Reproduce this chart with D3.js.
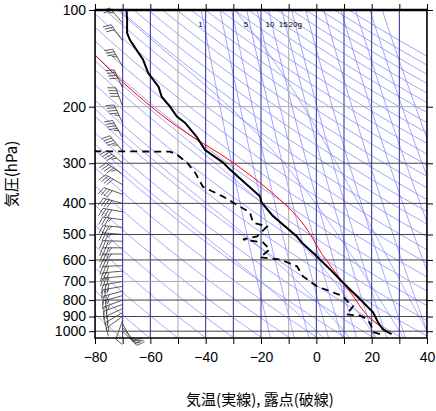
<!DOCTYPE html>
<html><head><meta charset="utf-8">
<script src="https://cdn.jsdelivr.net/npm/d3@7.9.0/dist/d3.min.js"></script>
<style>body{margin:0;background:#fff;font-family:"Liberation Sans","DejaVu Sans",sans-serif;}</style>
</head><body><svg id="c" width="436" height="411"></svg>
<script>
// sounding
const tempP = [1021,986,938,873,813,705,641,584,529,506,438,397.5,380,314,298.6,272.5,247.8,224.2,214.7,200,186.2,173.5,157,142.9,133.1,123.9,117.9,107.4,100];
const tempT = [27.2,24,22.3,20.5,16.9,9.6,4.9,0.1,-5.3,-7.1,-15.7,-19.8,-20.4,-31.2,-33.7,-40.3,-43.3,-47.5,-50.4,-52.9,-55.9,-57,-60.8,-62.6,-65,-67.4,-68.4,-68.4,-68.6];
const dewP = [1021,1007,960,920,895,886,860,836,812,778,751,725,675,628,598,589,556,529,518,507,472,459,427,398,381,355,321,299,282,276,275];
const dewT = [23,20.5,19.8,18.6,16,10.8,12.2,13.3,11.5,9.6,4.9,0.2,-4.8,-7,-13,-20.4,-16.8,-19.3,-26.5,-21.4,-17.8,-22.9,-24,-30,-33.7,-41,-43.8,-46.7,-50.4,-52.9,-90];
const parcelP = [1021,910,778,705,600,438,345,299,230,180,138];
const parcelT = [27.0,19.4,13.3,9.6,3.5,-7.1,-20.4,-30,-50.5,-66,-80];
const windP = [1000,975,950,925,900,875,850,825,800,775,750,725,700,675,650,625,600,575,550,525,500,475,450,425,400,375,350,325,300,275,250,225,200,175,150,125,110];
const windDir = [135,140,150,200,235,240,245,250,250,255,255,260,260,265,265,268,270,270,270,272,275,275,278,280,285,290,300,305,310,320,330,335,340,335,330,325,320];
const windSpd = [15,20,15,10,15,15,20,20,25,25,25,25,30,30,30,30,30,35,35,35,35,35,35,40,40,40,40,45,45,45,45,45,40,40,35,30,25];
const tempTicks = [-80,-60,-40,-20,0,20,40];
const presTicks = [100,200,300,400,500,600,700,800,900,1000];
const mixRatios = [1,2,3,5,7,10,15,20,30,50,80,120,180,260];
const mixLabels = [[1,"1"],[5,"5"],[10,"10"],[15,"15"],[20,"20g"]];

const svg = d3.select("#c");
const L = 95, R = 427, T = 10, B = 338;
const x = d3.scaleLinear().domain([-80, 40]).range([L, R]);
const y = d3.scaleLog().domain([100, 1050]).range([T, B]);

svg.append("clipPath").attr("id", "clip").append("rect")
  .attr("x", L).attr("y", T).attr("width", R - L).attr("height", B - T);
const g = svg.append("g").attr("clip-path", "url(#clip)");
const line = d3.line().x(d => x(d[1])).y(d => y(d[0]));
const pLevels = d3.range(100, 1051, 5);
const thin = "#7a7aff";

// dry adiabats
d3.range(200, 560, 10).forEach(th => {
  g.append("path").attr("d", line(pLevels.map(p => [p, th * Math.pow(p / 1000, 0.2857) - 273.15])))
    .attr("fill", "none").attr("stroke", thin).attr("stroke-width", 0.7);
});

// moist adiabats
function es(tc) { return 6.112 * Math.exp(17.67 * tc / (tc + 243.5)); }
function slope(t, p) {
  const rs = 0.622 * es(t - 273.15) / (p - es(t - 273.15));
  return (287 * t + 2.5e6 * rs) / (1004 + 2.5e6 * 2.5e6 * rs * 0.622 / (287 * t * t)) / p;
}
function moist(t0) {
  const pts = [];
  let t = t0 + 273.15;
  for (let p = 1000; p >= 100; p -= 2) { pts.push([p, t - 273.15]); t -= slope(t, p) * 2; }
  let t2 = t0 + 273.15;
  for (let p = 1000; p <= 1050; p += 2) { pts.unshift([p, t2 - 273.15]); t2 += slope(t2, p) * 2; }
  return pts;
}
d3.range(0, 41, 10).forEach(t0 => {
  g.append("path").attr("d", line(moist(t0)))
    .attr("fill", "none").attr("stroke", thin).attr("stroke-width", 0.7);
});

// mixing ratio lines
function tdFromW(w, p) {
  const e = w / 1000 * p / (0.622 + w / 1000);
  const a = Math.log(e / 6.112);
  return 243.5 * a / (17.67 - a);
}
mixRatios.forEach(w => {
  g.append("path").attr("d", line(pLevels.map(p => [p, tdFromW(w, p)])))
    .attr("fill", "none").attr("stroke", thin).attr("stroke-width", 0.7);
});

// isotherms and isobars
d3.range(-80, 41, 10).forEach(t => {
  g.append("line").attr("x1", x(t)).attr("x2", x(t)).attr("y1", T).attr("y2", B)
    .attr("stroke", (t === -50 || t === -10) ? "#aaa" : "#2a2a9a").attr("stroke-width", 1);
});
presTicks.forEach(p => {
  g.append("line").attr("x1", L).attr("x2", R).attr("y1", y(p)).attr("y2", y(p))
    .attr("stroke", (p === 200 || p === 700) ? "#aaa" : "#444").attr("stroke-width", 1);
});

// mixing ratio labels
mixLabels.forEach(([w, s]) => {
  svg.append("text").attr("x", x(tdFromW(w, 100)) - 3).attr("y", 27)
    .attr("font-size", 8).attr("fill", "#000").text(s);
});

// profiles
g.append("path").attr("d", line.curve(d3.curveMonotoneY)(parcelP.map((p, i) => [p, parcelT[i]])))
  .attr("fill", "none").attr("stroke", "#ff0000").attr("stroke-width", 1);
line.curve(d3.curveLinear);
g.append("path").attr("d", line(dewP.map((p, i) => [p, dewT[i]])))
  .attr("fill", "none").attr("stroke", "#000").attr("stroke-width", 1.8).attr("stroke-dasharray", "7,5");
g.append("path").attr("d", line(tempP.map((p, i) => [p, tempT[i]])))
  .attr("fill", "none").attr("stroke", "#000").attr("stroke-width", 2);

// wind barbs
const bx = x(-70);
windP.forEach((p, i) => {
  const a = windDir[i] * Math.PI / 180;
  const dx = Math.sin(a), dy = -Math.cos(a);
  const nx = -dy, ny = dx;
  const by = y(p), len = 20;
  let path = `M${bx},${by}L${bx + dx * len},${by + dy * len}`;
  let s = windSpd[i], k = 0;
  while (s >= 5) {
    const d = len - k * 3;
    const sx = bx + dx * d, sy = by + dy * d;
    const bl = s >= 10 ? 8 : 4;
    path += `M${sx},${sy}L${sx - nx * bl + dx * 3},${sy - ny * bl + dy * 3}`;
    s -= s >= 10 ? 10 : 5; k++;
  }
  svg.append("path").attr("d", path).attr("fill", "none").attr("stroke", "#333").attr("stroke-width", 0.8);
});

// frame and axes
svg.append("rect").attr("x", L).attr("y", T).attr("width", R - L).attr("height", B - T)
  .attr("fill", "none").attr("stroke", "#000").attr("stroke-width", 1.5);
svg.append("line").attr("x1", L).attr("x2", R).attr("y1", T).attr("y2", T).attr("stroke", "#000").attr("stroke-width", 2.5);
svg.append("g").attr("transform", `translate(0,${B})`)
  .call(d3.axisBottom(x).tickValues(d3.range(-80, 41, 10)).tickSize(6).tickFormat(d => tempTicks.includes(d) ? (d < 0 ? "\u2212" + (-d) : d) : ""))
  .call(a => a.select(".domain").remove())
  .selectAll("text").attr("font-size", 14).attr("dy", "1.1em");
svg.append("g").attr("transform", `translate(0,${T})`)
  .call(d3.axisTop(x).tickValues(d3.range(-80, 41, 10)).tickSize(6).tickFormat(""))
  .call(a => a.select(".domain").remove());
svg.append("g").attr("transform", `translate(${L},0)`)
  .call(d3.axisLeft(y).tickValues(presTicks).tickSize(6).tickFormat(d => d))
  .call(a => a.select(".domain").remove())
  .selectAll("text").attr("font-size", 14);
svg.append("g").attr("transform", `translate(${R},0)`)
  .call(d3.axisRight(y).tickValues(presTicks).tickSize(6).tickFormat(""))
  .call(a => a.select(".domain").remove());

svg.append("text").attr("x", 260).attr("y", 405).attr("text-anchor", "middle")
  .attr("font-size", 15).attr("font-family", "Noto Sans CJK JP").text("気温(実線), 露点(破線)");
svg.append("text").attr("transform", "translate(17,174) rotate(-90)").attr("text-anchor", "middle")
  .attr("font-size", 15).attr("font-family", "Noto Sans CJK JP").text("気圧(hPa)");
</script></body></html>
